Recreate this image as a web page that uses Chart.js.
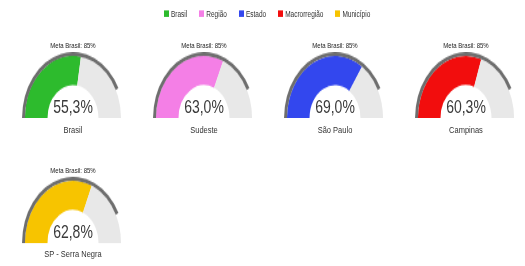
<!DOCTYPE html>
<html>
<head>
<meta charset="utf-8">
<script src="https://cdn.jsdelivr.net/npm/chart.js@4.4.0/dist/chart.umd.min.js"></script>
<style>
  html, body { margin: 0; padding: 0; background: #ffffff; overflow: hidden; }
  body { width: 525px; height: 266px; }
  #stage { position: absolute; left: 0; top: 0; width: 525px; height: 205px;
           transform: scale(1, 1.3); transform-origin: 0 0;
           font-family: "Liberation Sans", Arial, sans-serif; color: #333; }
  #legend { position: absolute; left: 164px; top: 7px; display: flex; gap: 12px;
            font-size: 6.5px; line-height: 7px; color: #333; }
  .li { display: flex; align-items: center; gap: 2px; }
  .sw { width: 5px; height: 5px; display: inline-block; }
  .gauge { position: absolute; width: 130px; }
  .gauge canvas { position: absolute; left: 14px; top: 0; }
  .meta, .val, .lab { position: absolute; left: 0; width: 130px; text-align: center; white-space: nowrap; }
  .meta { font-size: 6px; line-height: 6px; top: -8px; color: #222; }
  .val { font-size: 14px; line-height: 14px; top: 35px; color: #3a3a3a; }
  .lab { font-size: 7.5px; line-height: 8px; top: 56px; color: #333; }
</style>
</head>
<body>
<div id="stage">
  <div id="legend"></div>
</div>
<script>
const legendLabels = ['Brasil', 'Região', 'Estado', 'Macrorregião', 'Município'];
const categories = ['Brasil', 'Sudeste', 'São Paulo', 'Campinas', 'SP - Serra Negra'];
const values = [55.3, 63.0, 69.0, 60.3, 62.8];
const metaValue = 85;
const metaLabel = 'Meta Brasil: 85%';

const fillColors = ['#2dbb2d', '#f47fe6', '#3347ee', '#f20d0d', '#f7c400'];
const restColor = '#e8e8e8';
const metaColor = '#6e6e6e';

const stage = document.getElementById('stage');
const legend = document.getElementById('legend');
legendLabels.forEach((l, i) => {
  const d = document.createElement('div');
  d.className = 'li';
  d.innerHTML = '<span class="sw" style="background:' + fillColors[i] + '"></span><span>' + l + '</span>';
  legend.appendChild(d);
});

const fmt = v => v.toFixed(1).replace('.', ',') + '%';

categories.forEach((cat, i) => {
  const col = i % 4, row = Math.floor(i / 4);
  const cx = 73 + col * 131;
  const top = 40 + row * 96;
  const g = document.createElement('div');
  g.className = 'gauge';
  g.style.left = (cx - 65) + 'px';
  g.style.top = top + 'px';
  const cv = document.createElement('canvas');
  cv.width = 102; cv.height = 51;
  cv.style.width = '102px'; cv.style.height = '51px';
  g.appendChild(cv);
  const m = document.createElement('div'); m.className = 'meta'; m.textContent = metaLabel; g.appendChild(m);
  const v = document.createElement('div'); v.className = 'val'; v.textContent = fmt(values[i]); g.appendChild(v);
  const lb = document.createElement('div'); lb.className = 'lab'; lb.textContent = cat; g.appendChild(lb);
  stage.appendChild(g);

  new Chart(cv, {
    type: 'doughnut',
    data: {
      labels: ['a', 'b'],
      datasets: [
        { data: [metaValue, 100 - metaValue], backgroundColor: [metaColor, 'rgba(0,0,0,0)'], borderWidth: 0, weight: 3 },
        { data: [values[i], 100 - values[i]], backgroundColor: [fillColors[i], restColor], borderWidth: 0, weight: 23 }
      ]
    },
    options: {
      responsive: false,
      animation: false,
      devicePixelRatio: 1,
      rotation: -90,
      circumference: 180,
      cutout: '50%',
      layout: { padding: 0 },
      plugins: { legend: { display: false }, tooltip: { enabled: false } }
    }
  });
});
</script>
</body>
</html>
